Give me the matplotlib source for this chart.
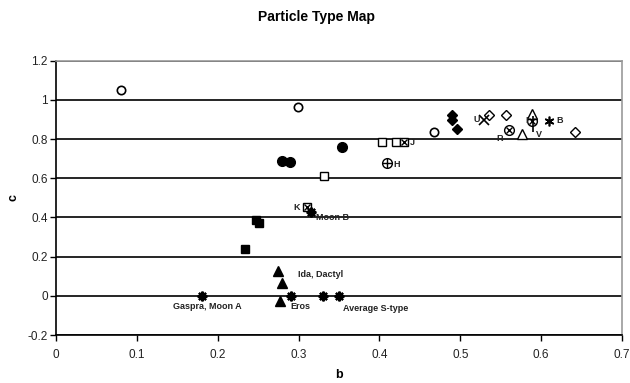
import matplotlib
matplotlib.use("Agg")
import matplotlib.pyplot as plt

plt.rcParams['font.family'] = ['Liberation Sans', 'DejaVu Sans']

# ---- data ----
open_circle_b = [0.080, 0.2995, 0.468]
open_circle_c = [1.053, 0.962, 0.834]
filled_circle_b = [0.279, 0.290, 0.354]
filled_circle_c = [0.686, 0.681, 0.758]
filled_square_b = [0.234, 0.247, 0.251]
filled_square_c = [0.239, 0.388, 0.371]
open_square_b = [0.331, 0.4026, 0.420]
open_square_c = [0.613, 0.783, 0.783]
boxed_x_b = [0.430, 0.310]
boxed_x_c = [0.783, 0.452]
boxed_x_labels = ["J", "K"]
circle_plus_b = [0.4088]
circle_plus_c = [0.676]
circle_plus_labels = ["H"]
filled_diamond_b = [0.490, 0.490, 0.4965]
filled_diamond_c = [0.922, 0.898, 0.851]
open_diamond_b = [0.535, 0.557, 0.6415]
open_diamond_c = [0.922, 0.922, 0.837]
circle_x_b = [0.560, 0.589]
circle_x_c = [0.846, 0.893]
circle_x_labels = ["R", "I"]
open_triangle_b = [0.576, 0.589]
open_triangle_c = [0.826, 0.927]
x_marker_b = [0.529]
x_marker_c = [0.898]
x_marker_labels = ["U"]
plus_b = [0.590]
plus_c = [0.878]
plus_labels = ["V"]
asterisk_b = [0.610]
asterisk_c = [0.893]
asterisk_labels = ["B"]
filled_triangle_b = [0.275, 0.280, 0.277]
filled_triangle_c = [0.128, 0.064, -0.025]
star_b = [0.180, 0.291, 0.330, 0.350, 0.315]
star_c = [0.0, 0.0, 0.0, 0.0, 0.429]
star_labels = ["Gaspra, Moon A", "Eros", "Ida, Dactyl", "Average S-type", "Moon B"]

x_ticks = [0, 0.1, 0.2, 0.3, 0.4, 0.5, 0.6, 0.7]
y_ticks = [-0.2, 0, 0.2, 0.4, 0.6, 0.8, 1, 1.2]

fig = plt.figure(figsize=(6.3, 3.83), dpi=100)
ax = fig.add_axes([0.0889, 0.1253, 0.8984, 0.7162])

ms = 6
ax.plot(open_circle_b, open_circle_c, 'o', ms=ms, mfc='white', mec='black', mew=1.2, ls='none', zorder=3)
ax.plot(filled_circle_b, filled_circle_c, 'o', ms=ms + 1, color='black', ls='none', zorder=3)
ax.plot(filled_square_b, filled_square_c, 's', ms=ms, color='black', ls='none', zorder=3)
ax.plot(open_square_b, open_square_c, 's', ms=ms, mfc='white', mec='black', mew=1.0, ls='none', zorder=3)
ax.plot(boxed_x_b, boxed_x_c, 's', ms=ms, mfc='white', mec='black', mew=1.0, ls='none', zorder=3)
ax.plot(boxed_x_b, boxed_x_c, 'x', ms=ms - 1, color='black', mew=1.0, ls='none', zorder=4)
ax.plot(circle_plus_b, circle_plus_c, 'o', ms=ms + 1, mfc='white', mec='black', mew=1.0, ls='none', zorder=3)
ax.plot(circle_plus_b, circle_plus_c, '+', ms=ms + 1, color='black', mew=1.0, ls='none', zorder=4)
ax.plot(filled_diamond_b, filled_diamond_c, 'D', ms=ms - 1, color='black', ls='none', zorder=3)
ax.plot(open_diamond_b, open_diamond_c, 'D', ms=ms - 1, mfc='white', mec='black', mew=1.0, ls='none', zorder=3)
ax.plot(circle_x_b, circle_x_c, 'o', ms=ms + 1, mfc='white', mec='black', mew=1.0, ls='none', zorder=3)
ax.plot(circle_x_b, circle_x_c, 'x', ms=ms - 1, color='black', mew=1.0, ls='none', zorder=4)
ax.plot(open_triangle_b, open_triangle_c, '^', ms=ms + 1, mfc='white', mec='black', mew=1.0, ls='none', zorder=3)
ax.plot(x_marker_b, x_marker_c, 'x', ms=ms + 1, color='black', mew=1.2, ls='none', zorder=3)
ax.plot(plus_b, plus_c, '|', ms=ms + 5, color='black', mew=1.2, ls='none', zorder=3)
ax.plot(asterisk_b, asterisk_c, marker=(6, 2, 0), ms=ms + 1, color='black', mew=1.2, ls='none', zorder=3)
ax.plot(filled_triangle_b, filled_triangle_c, '^', ms=ms + 1, color='black', ls='none', zorder=3)
ax.plot(star_b, star_c, marker=(8, 2, 0), ms=ms + 1, color='black', mew=1.6, ls='none', zorder=3)
ax.plot(star_b, star_c, 'o', ms=ms - 2, color='black', ls='none', zorder=3)

lab_kw = dict(fontsize=6.5, fontweight='bold', color='#222222', textcoords='offset points', zorder=5)

def label_points(bs, cs, labels, offsets):
    for b, c, t, (dx, dy, ha) in zip(bs, cs, labels, offsets):
        ax.annotate(t, (b, c), xytext=(dx, dy), ha=ha, va='center', **lab_kw)

label_points(boxed_x_b, boxed_x_c, boxed_x_labels, [(6.5, 0, 'center'), (-7.5, 0, 'center')])
label_points(circle_plus_b, circle_plus_c, circle_plus_labels, [(7, -1, 'center')])
label_points(circle_x_b, circle_x_c, circle_x_labels, [(-4.5, -6, 'right'), (-3.5, 0, 'right')])
label_points(x_marker_b, x_marker_c, x_marker_labels, [(-3, 0, 'right')])
label_points(plus_b, plus_c, plus_labels, [(4, -8, 'center')])
label_points(asterisk_b, asterisk_c, asterisk_labels, [(7.5, 0, 'center')])
label_points(star_b, star_c, star_labels,
             [(4, -8, 'center'), (-1, -8, 'left'), (-18, 15, 'left'), (3, -9, 'left'), (4, -4, 'left')])

ax.set_xlim(0, 0.7)
ax.set_ylim(-0.2, 1.2)
ax.set_xticks(x_ticks)
ax.set_xticklabels([f"{v:g}" for v in x_ticks])
ax.set_yticks(y_ticks)
ax.set_yticklabels([f"{v:g}" for v in y_ticks])
ax.tick_params(axis='both', labelsize=8.5, length=4, width=1, direction='out', color='black', labelcolor='#222222')
ax.tick_params(axis='y', pad=2)
ax.tick_params(axis='x', pad=6)

ax.yaxis.grid(True, color='black', lw=1.2)
ax.set_axisbelow(True)
for s in ['top', 'right']:
    ax.spines[s].set_color('#999999')
    ax.spines[s].set_linewidth(1.2)
for s in ['left', 'bottom']:
    ax.spines[s].set_color('black')
    ax.spines[s].set_linewidth(1.2)

ax.set_xlabel('b', fontsize=9, fontweight='bold', labelpad=6)
ax.set_ylabel('c', fontsize=9, fontweight='bold')
ax.yaxis.set_label_coords(-0.064, 0.5)
fig.text(0.503, 0.955, 'Particle Type Map', ha='center', va='center', fontsize=10, fontweight='bold')

fig.savefig('out.png', dpi=100)
